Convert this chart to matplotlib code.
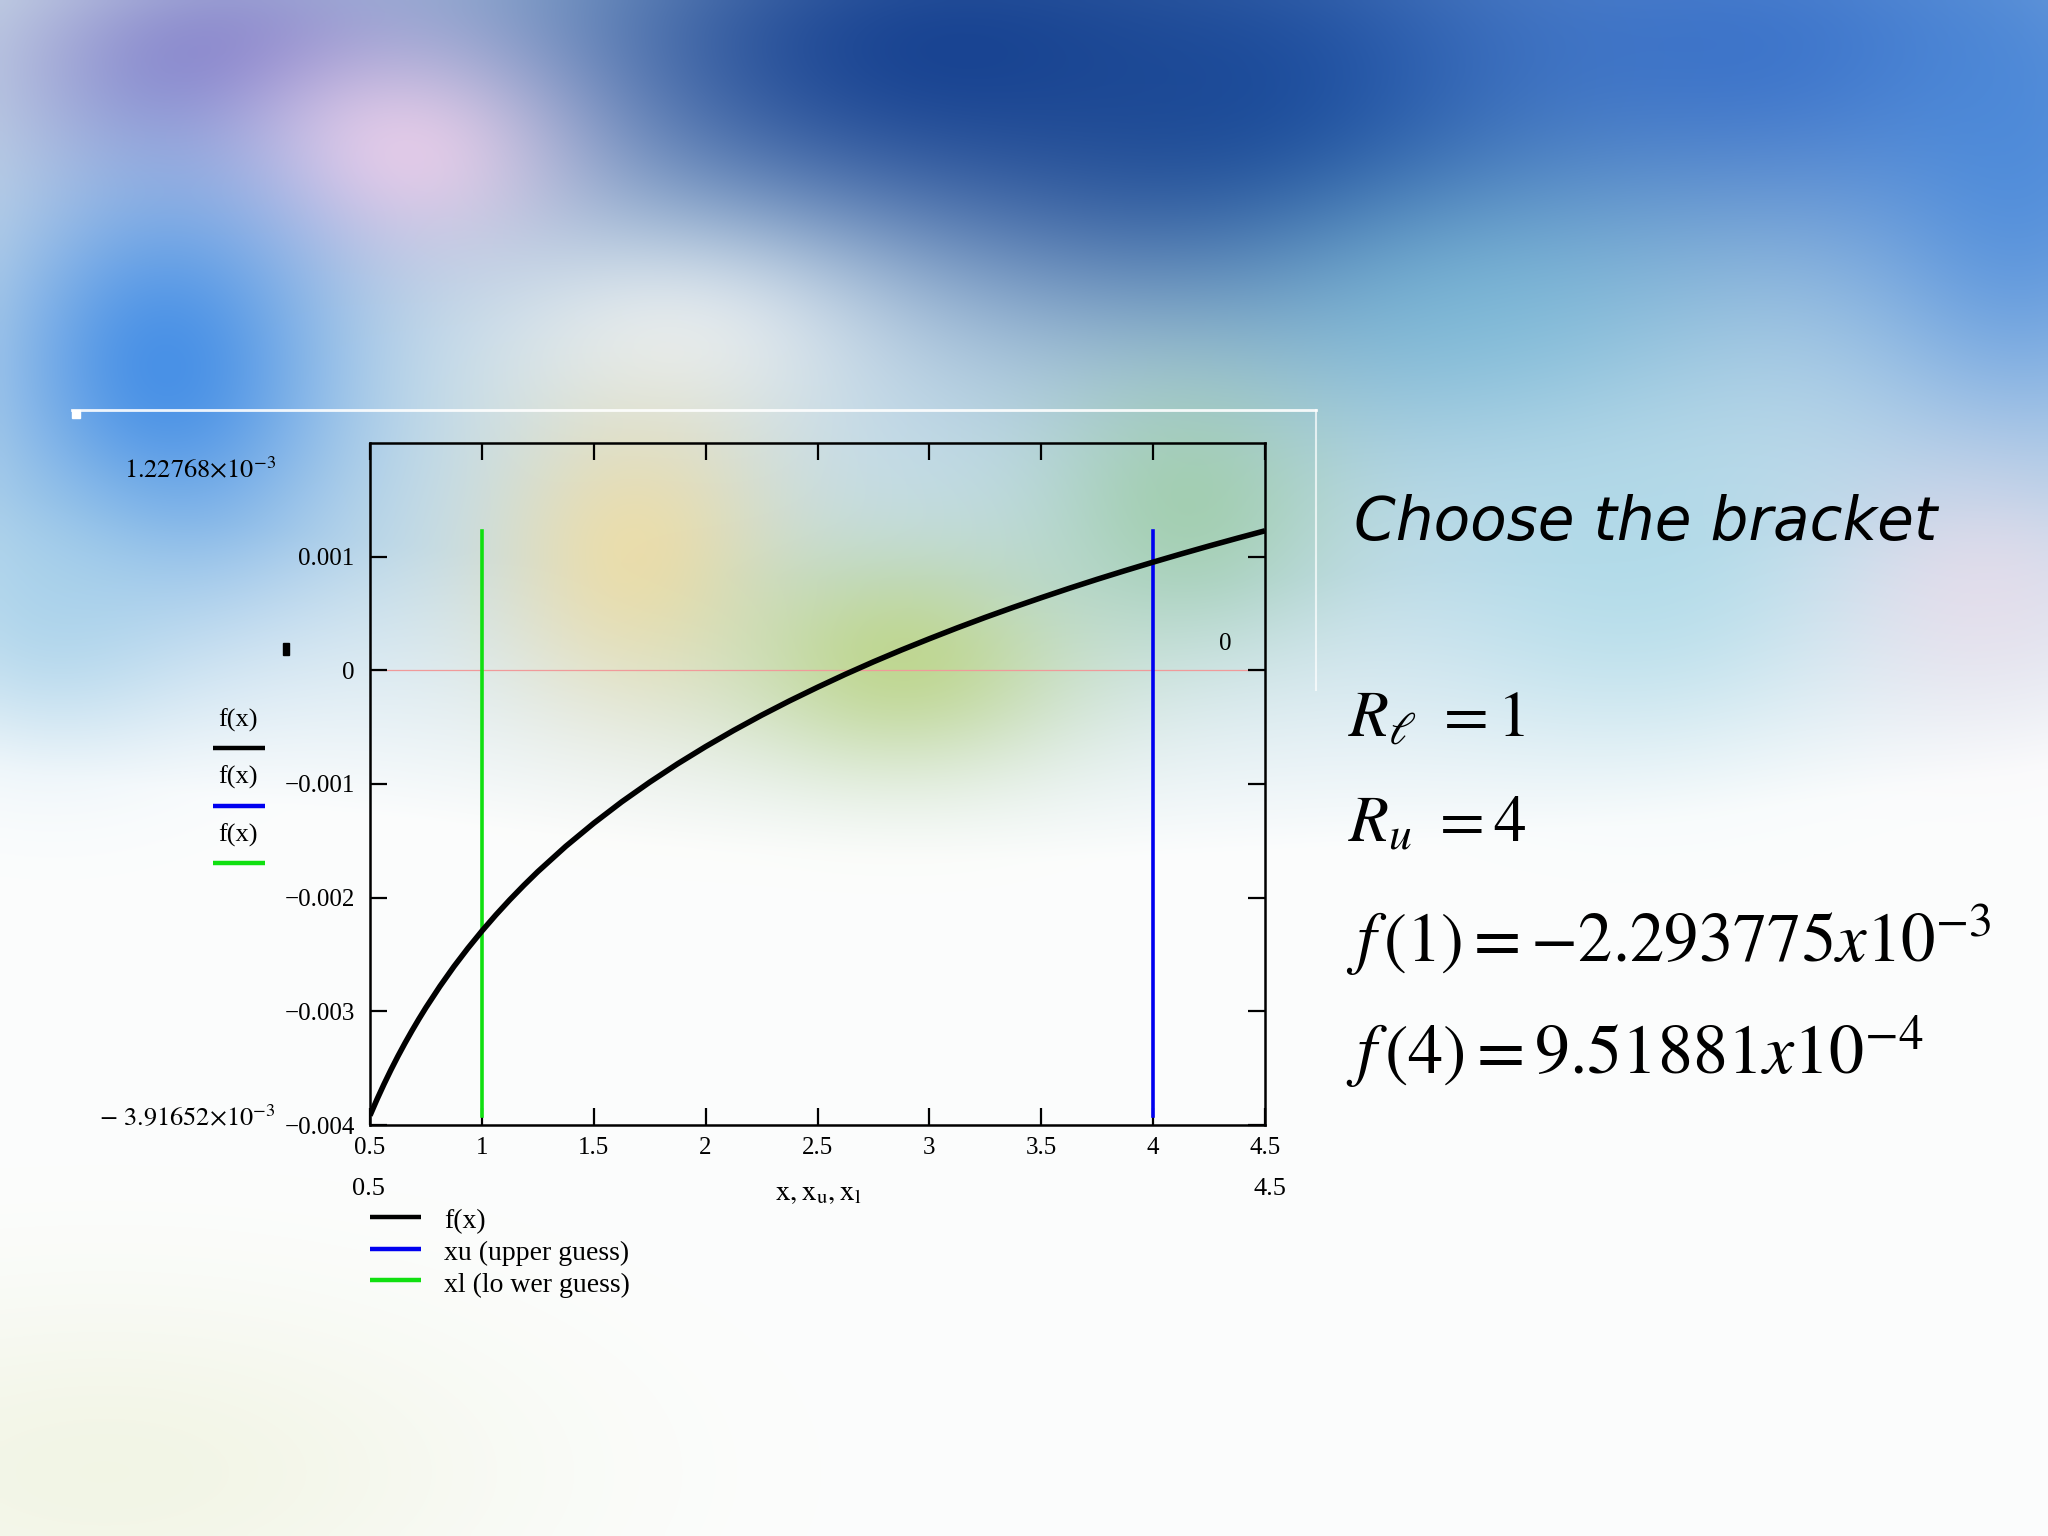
import numpy as np
import matplotlib
matplotlib.use('Agg')
import matplotlib.pyplot as plt
from matplotlib.colors import to_rgb

# ---------------- data ----------------
x_values = [0.5, 0.53125, 0.5625, 0.59375, 0.625, 0.65625, 0.6875, 0.71875, 0.75,
            0.8125, 0.875, 0.9375, 1.0, 1.0625, 1.125, 1.1875, 1.25, 1.375, 1.5,
            1.625, 1.75, 1.875, 2.0, 2.125, 2.25, 2.375, 2.5, 2.625, 2.75, 2.875,
            3.0, 3.125, 3.25, 3.375, 3.5, 3.625, 3.75, 3.875, 4.0, 4.125, 4.25,
            4.375, 4.5]
f_values = [-3.9165e-3, -3.7747e-3, -3.641e-3, -3.5143e-3, -3.394e-3, -3.280e-3,
            -3.171e-3, -3.0669e-3, -2.967e-3, -2.7799e-3, -2.606e-3, -2.4449e-3,
            -2.2938e-3, -2.1519e-3, -2.018e-3, -1.8914e-3, -1.771e-3, -1.5482e-3,
            -1.345e-3, -1.1571e-3, -0.984e-3, -0.822e-3, -0.671e-3, -0.5289e-3,
            -0.395e-3, -0.2686e-3, -0.149e-3, -0.0342e-3, 0.075e-3, 0.1788e-3,
            0.278e-3, 0.3739e-3, 0.466e-3, 0.5542e-3, 0.639e-3, 0.7216e-3,
            0.801e-3, 0.8775e-3, 0.9519e-3, 1.024e-3, 1.094e-3, 1.1617e-3, 1.2277e-3]
x_lower = [1.0, 1.0]
x_upper = [4.0, 4.0]
f_span = [-3.91652e-3, 1.22768e-3]
x_ticks = [0.5, 1, 1.5, 2, 2.5, 3, 3.5, 4, 4.5]
x_tick_labels = ['0.5', '1', '1.5', '2', '2.5', '3', '3.5', '4', '4.5']
y_ticks = [-0.004, -0.003, -0.002, -0.001, 0, 0.001]
y_tick_labels = ['\u22120.004', '\u22120.003', '\u22120.002', '\u22120.001', '0', '0.001']
legend_labels = ['f(x)', 'xu (upper guess)', 'xl (lo wer guess)']

SERIF = 'Liberation Serif'
plt.rcParams['mathtext.fontset'] = 'stix'

fig = plt.figure(figsize=(20.48, 15.36), dpi=100)

# ---------------- decorative background ----------------
H, W = 300, 400
yy, xx = np.mgrid[0:H, 0:W]
u = xx / (W - 1)
v = yy / (H - 1)
img = np.ones((H, W, 3)) * np.array(to_rgb('#fcfdfd'))

def blend(color, a):
    global img
    img = img * (1 - a[..., None]) + np.array(to_rgb(color)) * a[..., None]

def blob(cx, cy, sx, sy, color, amp):
    a = amp * np.exp(-(((u - cx) ** 2) / (2 * sx ** 2) + ((v - cy) ** 2) / (2 * sy ** 2)))
    blend(color, a)

fog_line = 0.50 + 0.06 * np.sin(np.pi * u)
blend('#bcd9e8', np.clip((fog_line - v) / 0.18, 0, 1) * 0.85)
blob(0.04, 0.06, 0.07, 0.12, '#d3dbe6', 0.8)
blob(0.46, 0.03, 0.17, 0.10, '#143f90', 0.95)
blob(0.63, 0.07, 0.11, 0.09, '#0c3784', 0.9)
blob(0.86, 0.03, 0.16, 0.10, '#2b66c6', 0.85)
blob(0.99, 0.12, 0.06, 0.12, '#3e82da', 0.7)
blob(0.11, 0.04, 0.07, 0.05, '#7f77c6', 0.85)
blob(0.19, 0.10, 0.06, 0.05, '#f0d0ea', 0.9)
blob(0.08, 0.24, 0.06, 0.09, '#3a88e6', 0.9)
blob(0.02, 0.40, 0.05, 0.06, '#9dcde8', 0.6)
blob(0.33, 0.22, 0.07, 0.05, '#f4f6f8', 0.75)
blob(0.72, 0.20, 0.09, 0.07, '#79c0da', 0.6)
blob(0.80, 0.38, 0.07, 0.07, '#a3d8e7', 0.55)
blob(0.97, 0.38, 0.05, 0.06, '#efdbe9', 0.6)
blob(0.31, 0.36, 0.05, 0.07, '#f4dd9e', 0.8)
blob(0.44, 0.43, 0.06, 0.05, '#bad37c', 0.8)
blob(0.58, 0.33, 0.05, 0.06, '#98ca9c', 0.7)
blob(0.05, 0.96, 0.14, 0.08, '#eef2dc', 0.7)

bg = fig.add_axes([0, 0, 1, 1], zorder=0)
bg.imshow(img, extent=[0, 1, 1, 0], aspect='auto', interpolation='bicubic')
bg.set_xlim(0, 1)
bg.set_ylim(1, 0)
bg.axis('off')

def px(x, y):
    """full-resolution pixel -> figure fraction"""
    return x / 2048, 1 - y / 1536

# white frame remnant
bg.plot([72 / 2048, 1316 / 2048], [410 / 1536, 410 / 1536], color='white', lw=2, alpha=0.9)
bg.plot([1316 / 2048, 1316 / 2048], [410 / 1536, 690 / 1536], color='white', lw=1.5, alpha=0.7)
bg.add_patch(plt.Rectangle((72 / 2048, 410 / 1536), 8 / 2048, 8 / 1536, color='white'))

# ---------------- main plot ----------------
ax = fig.add_axes([370 / 2048, 1 - 1125 / 1536, 895 / 2048, 682 / 1536], zorder=2)
ax.set_facecolor('none')
ax.axhline(0, color='#f09a9a', lw=0.9, zorder=1)
ax.plot(x_values, f_values, color='black', lw=4.0, zorder=3, solid_capstyle='butt')
ax.plot(x_upper, f_span, color='#0000f0', lw=2.6, zorder=2)
ax.plot(x_lower, f_span, color='#10e010', lw=2.6, zorder=2)
ax.set_xlim(0.5, 4.5)
ax.set_ylim(-0.004, 0.002)
ax.set_xticks(x_ticks)
ax.set_xticklabels(x_tick_labels, family=SERIF, fontsize=18)
ax.set_yticks(y_ticks)
ax.set_yticklabels(y_tick_labels, family=SERIF, fontsize=18)
ax.tick_params(axis='both', direction='in', length=12, width=1.6, top=True, right=True,
               colors='black')
ax.tick_params(axis='y', pad=11)
ax.tick_params(axis='x', pad=9)
for lbl in ax.get_xticklabels():
    lbl.set_x(lbl.get_position()[0])
for s in ax.spines.values():
    s.set_linewidth(1.8)
ax.text(0.956, 0.705, '0', transform=ax.transAxes, family=SERIF, fontsize=18,
        ha='center', va='center')

# ---------------- texts around the plot ----------------
fig.text(*px(200, 471), r'$1.22768{\times}10^{-3}$', fontsize=19, ha='center', va='center')
fig.text(*px(187, 1118), r'$-\ 3.91652{\times}10^{-3}$', fontsize=19, ha='center', va='center')
fig.text(*px(368, 1189), '0.5', family=SERIF, fontsize=19, ha='center', va='center')
fig.text(*px(1270, 1189), '4.5', family=SERIF, fontsize=19, ha='center', va='center')
fig.text(*px(818, 1192), r'$\mathrm{x, x_u, x_l}$', fontsize=21, ha='center', va='center')
bg.add_patch(plt.Rectangle((283 / 2048, 643 / 1536), 6 / 2048, 12 / 1536, color='black'))

# left legend (f(x) with colour swatches)
left_colors = ['black', '#0000f0', '#10e010']
for i, c in enumerate(left_colors):
    ty = 720 + i * 57.5
    fig.text(*px(238, ty), 'f(x)', family=SERIF, fontsize=19, ha='center', va='center')
    bg.plot([213 / 2048, 265 / 2048], [(ty + 28) / 1536] * 2, color=c, lw=3.2,
            solid_capstyle='butt')

# bottom legend
for i, (c, lab) in enumerate(zip(left_colors, legend_labels)):
    ty = 1217 + i * 31.5
    bg.plot([370 / 2048, 421 / 2048], [ty / 1536] * 2, color=c, lw=3.2,
            solid_capstyle='butt')
    fig.text(*px(444, ty + 5), lab, family=SERIF, fontsize=20, ha='left', va='center')

# ---------------- right-hand text ----------------
fig.text(*px(1354, 540), 'Choose the bracket', family='DejaVu Sans', style='italic',
         fontsize=43, ha='left', va='baseline')
fig.text(*px(1348, 736), r'$R_{\ell}\ =1$', fontsize=47, ha='left', va='baseline')
fig.text(*px(1348, 842), r'$R_{u}\ =4$', fontsize=47, ha='left', va='baseline')
fig.text(*px(1346, 962), r'$f\,\left(1\right)={-}2.293775x10^{-3}$', fontsize=49.5,
         ha='left', va='baseline')
fig.text(*px(1346, 1075), r'$f\,\left(4\right)=9.51881x10^{-4}$', fontsize=50.5,
         ha='left', va='baseline')

fig.savefig('out.png', dpi=100)
